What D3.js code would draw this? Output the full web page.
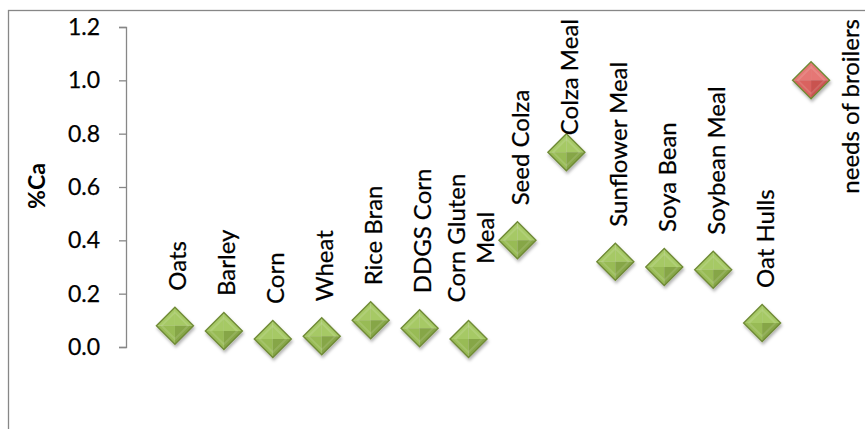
<!DOCTYPE html>
<html>
<head>
<meta charset="utf-8">
<script src="https://cdn.jsdelivr.net/npm/d3@7"></script>
<style>
  html, body { margin: 0; padding: 0; background: #fff; }
  svg { display: block; }
  text { font-family: Lato, "Open Sans", sans-serif; fill: #000; }
</style>
</head>
<body>
<svg id="chart" width="865" height="429"></svg>
<script>
// Calcium content of feed ingredients (%Ca) and the broiler requirement
const categories = ["Oats", "Barley", "Corn", "Wheat", "Rice Bran", "DDGS Corn",
  "Corn Gluten Meal", "Seed Colza", "Colza Meal", "Sunflower Meal", "Soya Bean",
  "Soybean Meal", "Oat Hulls", "needs of broilers"];
const caValues = [0.08, 0.06, 0.03, 0.04, 0.10, 0.07, 0.03, 0.40, 0.73, 0.32, 0.30, 0.29, 0.09, 1.00];
const requirementCategory = "needs of broilers";
const yTicks = [0.0, 0.2, 0.4, 0.6, 0.8, 1.0, 1.2];
const yTitle = "%Ca";
// labels that are set on two lines
const labelLines = { "Corn Gluten Meal": ["Corn Gluten", "Meal"] };

const svg = d3.select("#chart");
const W = 865, H = 429;

const plot = { left: 126, right: 860, top: 27, bottom: 347 };
const x = d3.scaleLinear().domain([0, categories.length + 1]).range([plot.left, plot.right]);
const y = d3.scaleLinear().domain([0, 1.2]).range([plot.bottom, plot.top]);

// chart frame (only top and left edges fall inside the view)
svg.append("rect")
  .attr("x", 8.5).attr("y", 10.5)
  .attr("width", W + 20).attr("height", H + 20)
  .attr("fill", "none").attr("stroke", "#878787").attr("stroke-width", 1.3);

// drop shadow for the markers
const defs = svg.append("defs");
const f = defs.append("filter").attr("id", "shadow")
  .attr("x", "-30%").attr("y", "-30%").attr("width", "160%").attr("height", "170%");
f.append("feDropShadow").attr("dx", 1).attr("dy", 2.5)
  .attr("stdDeviation", 1.8).attr("flood-color", "#000").attr("flood-opacity", 0.3);

// y axis
const yAxis = d3.axisLeft(y).tickValues(yTicks).tickFormat(d3.format(".1f"))
  .tickSize(7).tickPadding(19);
const gy = svg.append("g").attr("transform", `translate(${plot.left},0)`).call(yAxis);
gy.select(".domain").attr("stroke", "#878787").attr("stroke-width", 1.3);
gy.selectAll(".tick line").attr("stroke", "#878787").attr("stroke-width", 1.3);
gy.selectAll(".tick text")
  .style("font-family", "Lato, sans-serif").style("font-size", "23px")
  .attr("fill", "#000").attr("stroke", "#000").attr("stroke-width", 0.25);

// axis title
svg.append("text")
  .attr("transform", `translate(45,${(plot.top + plot.bottom) / 2 - 1}) rotate(-90)`)
  .attr("text-anchor", "middle")
  .style("font-size", "23px").style("font-weight", "bold")
  .text(yTitle);

// bevelled diamond markers
const half = 18.5;
const palettes = {
  green: { top: "#a6c965", left: "#98bb55", right: "#90b24e", bottom: "#86a646", edge: "#6f8a36" },
  red:   { top: "#e57774", left: "#d9625f", right: "#d15b58", bottom: "#c95350", edge: "#6f8a36" }
};

const data = categories.map((c, i) => ({ name: c, value: caValues[i], i }));

const marks = svg.append("g").selectAll("g.mark").data(data).join("g")
  .attr("class", "mark")
  .attr("transform", d => `translate(${x(d.i + 1)},${y(d.value)})`)
  .attr("filter", "url(#shadow)");

marks.each(function(d) {
  const p = palettes[d.name === requirementCategory ? "red" : "green"];
  const g = d3.select(this);
  const faces = [
    { pts: [[0, 0], [-half, 0], [0, -half]], fill: p.top },
    { pts: [[0, 0], [half, 0], [0, -half]], fill: p.top },
    { pts: [[0, 0], [-half, 0], [0, half]], fill: p.left },
    { pts: [[0, 0], [half, 0], [0, half]], fill: p.bottom }
  ];
  g.selectAll("polygon.face").data(faces).join("polygon")
    .attr("class", "face")
    .attr("points", f => f.pts.map(q => q.join(",")).join(" "))
    .attr("fill", f => f.fill);
  const b = half * 0.72;
  g.append("polygon")
    .attr("points", [[0, -b], [b, 0], [0, b], [-b, 0]].map(q => q.join(",")).join(" "))
    .attr("fill", "none").attr("stroke", "#ffffff").attr("stroke-opacity", 0.12).attr("stroke-width", 2);
  g.append("polygon")
    .attr("points", [[0, -half], [half, 0], [0, half], [-half, 0]].map(q => q.join(",")).join(" "))
    .attr("fill", "none").attr("stroke", p.edge).attr("stroke-width", 1.4);
});

// data labels, rotated, placed above each marker; a label that would
// run past the top of the chart is pinned under the top edge instead
const labelSize = 24, lineGap = 29, gapAbove = 35, minTop = 19;
const approxLen = s => s.length * labelSize * 0.5;
const labels = svg.append("g");
data.forEach(d => {
  const lines = labelLines[d.name] || [d.name];
  const cx = x(d.i + 1), cy = y(d.value);
  const n = lines.length;
  const len = d3.max(lines, approxLen);
  const t = labels.append("text")
    .style("font-size", labelSize + "px")
    .attr("stroke", "#000").attr("stroke-width", 0.25);
  lines.forEach(ln => t.append("tspan").text(ln));

  const bottom = cy - gapAbove;
  const clamped = bottom - len < minTop;
  const shift = clamped && (minTop + len > cy) ? 37 : 0;
  const ax = cx + 3 + shift;

  if (n === 1) {
    t.attr("text-anchor", clamped ? "end" : "start")
      .attr("transform", `translate(${ax},${clamped ? minTop : bottom}) rotate(-90)`);
    t.select("tspan").attr("x", 0).attr("y", 0).attr("dy", "0.35em");
  } else {
    t.attr("text-anchor", "middle")
      .attr("transform", `translate(${ax},${bottom - len / 2}) rotate(-90)`);
    t.selectAll("tspan")
      .attr("x", 0)
      .attr("y", (_, k) => (k - (n - 1) / 2) * lineGap)
      .attr("dy", "0.35em");
  }
});
</script>
</body>
</html>
